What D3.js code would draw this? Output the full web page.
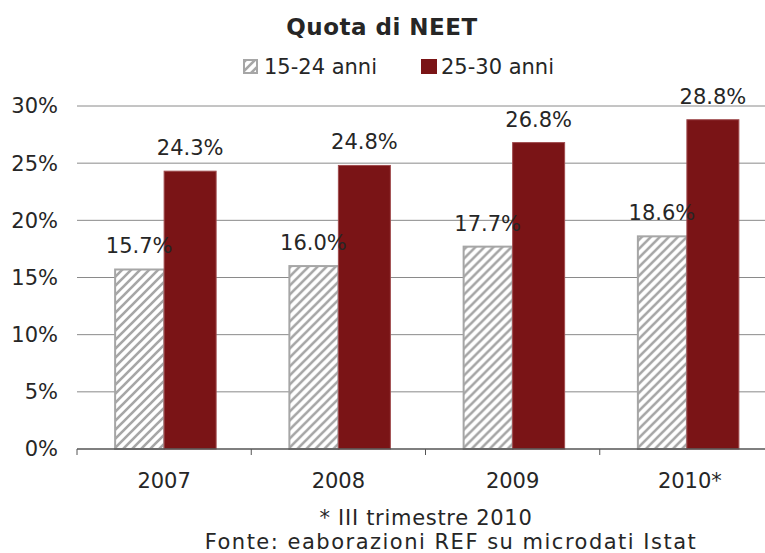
<!DOCTYPE html>
<html>
<head>
<meta charset="utf-8">
<script src="https://cdn.jsdelivr.net/npm/d3@7"></script>
<style>
  body { margin: 0; background: #fff; }
  text { font-family: "DejaVu Sans", Verdana, sans-serif; fill: #262626; }
</style>
</head>
<body>
<div id="chart"></div>
<script>
const years = ["2007", "2008", "2009", "2010*"];
const series = ["15-24 anni", "25-30 anni"];
const young = [15.7, 16.0, 17.7, 18.6];
const older = [24.3, 24.8, 26.8, 28.8];
const yTicks = [0, 5, 10, 15, 20, 25, 30];

const width = 765, height = 553;
const plot = { left: 77, right: 774, top: 106, bottom: 449 };
const red = "#7a1416";
const grey = "#a6a6a6";

const svg = d3.select("#chart")
    .append("svg")
    .attr("width", width)
    .attr("height", height);

// hatch pattern for the 15-24 series
const defs = svg.append("defs");
const pat = defs.append("pattern")
    .attr("id", "hatch")
    .attr("patternUnits", "userSpaceOnUse")
    .attr("width", 9)
    .attr("height", 9);
pat.append("rect").attr("width", 9).attr("height", 9).attr("fill", "#fff");
pat.append("path")
    .attr("d", "M0,9 L9,0 M-2,2 L2,-2 M7,11 L11,7")
    .attr("stroke", grey)
    .attr("stroke-width", 2.6);

const x = d3.scaleBand()
    .domain(years)
    .range([plot.left, plot.right]);

const inner = d3.scaleBand()
    .domain(series)
    .range([x.bandwidth() / 2 - 50, x.bandwidth() / 2 + 50]);

const y = d3.scaleLinear()
    .domain([0, 30])
    .range([plot.bottom, plot.top]);

// gridlines
svg.append("g")
    .selectAll("line")
    .data(yTicks.slice(1))
    .join("line")
    .attr("x1", plot.left)
    .attr("x2", width)
    .attr("y1", d => y(d))
    .attr("y2", d => y(d))
    .attr("stroke", "#8a8a8a")
    .attr("stroke-width", 1);

// y labels
svg.append("g")
    .selectAll("text")
    .data(yTicks)
    .join("text")
    .attr("x", 58)
    .attr("y", d => y(d))
    .attr("dy", "0.35em")
    .attr("text-anchor", "end")
    .style("font-size", "21px")
    .text(d => d + "%");

const groups = svg.append("g")
    .selectAll("g")
    .data(years)
    .join("g")
    .attr("transform", d => `translate(${x(d)},0)`);

// bars
groups.append("rect")
    .attr("x", inner(series[0]) + 1)
    .attr("width", inner.bandwidth() - 1)
    .attr("y", (d, i) => y(young[i]))
    .attr("height", (d, i) => y(0) - y(young[i]))
    .attr("fill", "url(#hatch)")
    .attr("stroke", grey)
    .attr("stroke-width", 2);

groups.append("rect")
    .attr("x", inner(series[1]))
    .attr("width", inner.bandwidth() + 2)
    .attr("y", (d, i) => y(older[i]))
    .attr("height", (d, i) => y(0) - y(older[i]))
    .attr("fill", red)
    .attr("stroke", "#a04c4e")
    .attr("stroke-width", 1);

// value labels
groups.append("text")
    .attr("x", inner(series[0]) + inner.bandwidth() / 2)
    .attr("y", (d, i) => y(young[i]) - 16)
    .attr("text-anchor", "middle")
    .style("font-size", "21px")
    .text((d, i) => young[i].toFixed(1) + "%");

groups.append("text")
    .attr("x", inner(series[1]) + inner.bandwidth() / 2 + 1)
    .attr("y", (d, i) => y(older[i]) - 16)
    .attr("text-anchor", "middle")
    .style("font-size", "21px")
    .text((d, i) => older[i].toFixed(1) + "%");

// x axis
const xAxis = svg.append("g");
xAxis.append("line")
    .attr("x1", plot.left)
    .attr("x2", width)
    .attr("y1", y(0))
    .attr("y2", y(0))
    .attr("stroke", "#555")
    .attr("stroke-width", 1.3);
xAxis.selectAll(".tick")
    .data(years)
    .join("line")
    .attr("class", "tick")
    .attr("x1", d => x(d))
    .attr("x2", d => x(d))
    .attr("y1", y(0))
    .attr("y2", y(0) + 6)
    .attr("stroke", "#555");
xAxis.selectAll("text")
    .data(years)
    .join("text")
    .attr("x", d => x(d) + x.bandwidth() / 2 + (d.endsWith("*") ? 3 : 0))
    .attr("y", 488)
    .attr("text-anchor", "middle")
    .style("font-size", "21px")
    .text(d => d);

// title
svg.append("text")
    .attr("x", 382)
    .attr("y", 35)
    .attr("text-anchor", "middle")
    .style("font-size", "23px")
    .style("font-weight", "bold")
    .style("letter-spacing", "0.5px")
    .text("Quota di NEET");

// legend
const legend = svg.append("g");
legend.append("rect")
    .attr("x", 244).attr("y", 60).attr("width", 13).attr("height", 13)
    .attr("fill", "url(#hatch)")
    .attr("stroke", grey).attr("stroke-width", 2);
legend.append("text")
    .attr("x", 264).attr("y", 74)
    .style("font-size", "21px")
    .text(series[0]);
legend.append("rect")
    .attr("x", 421).attr("y", 59).attr("width", 16).attr("height", 15)
    .attr("fill", red);
legend.append("text")
    .attr("x", 441).attr("y", 74)
    .style("font-size", "21px")
    .text(series[1]);

// notes
svg.append("text")
    .attr("x", 426).attr("y", 525)
    .attr("text-anchor", "middle")
    .style("font-size", "21px")
    .style("letter-spacing", "0.7px")
    .text("* III trimestre 2010");
svg.append("text")
    .attr("x", 451).attr("y", 549)
    .attr("text-anchor", "middle")
    .style("font-size", "21px")
    .style("letter-spacing", "1.5px")
    .text("Fonte: eaborazioni REF su microdati Istat");
</script>
</body>
</html>
